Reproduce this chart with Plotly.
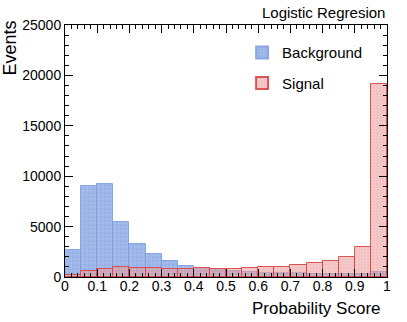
import plotly.graph_objects as go

bin_centers = [0.025, 0.075, 0.125, 0.175, 0.225, 0.275, 0.325, 0.375, 0.425, 0.475,
               0.525, 0.575, 0.625, 0.675, 0.725, 0.775, 0.825, 0.875, 0.925, 0.975]
background = [2700, 9050, 9200, 5450, 3300, 2320, 1550, 1120, 850, 650,
              550, 470, 420, 380, 350, 340, 330, 330, 330, 480]
signal = [160, 560, 820, 1020, 920, 920, 820, 800, 880, 810,
          750, 850, 960, 1020, 1150, 1350, 1620, 2020, 3010, 19100]
x_ticks = [0, 0.1, 0.2, 0.3, 0.4, 0.5, 0.6, 0.7, 0.8, 0.9, 1]
x_labels = ["0", "0.1", "0.2", "0.3", "0.4", "0.5", "0.6", "0.7", "0.8", "0.9", "1"]

fig = go.Figure()
fig.add_trace(go.Bar(
    x=bin_centers, y=background, width=0.05, name="Background", legendgroup="bkg",
    marker=dict(color="rgba(100,140,218,0.68)",
                line=dict(color="rgba(130,160,225,0.9)", width=1),
                pattern=dict(shape="+", fgcolor="rgba(255,255,255,0.6)", size=4, solidity=0.25)),
))
fig.add_trace(go.Bar(
    x=bin_centers, y=signal, width=0.05, name="Signal", legendgroup="sig",
    marker=dict(color="rgba(232,140,140,0.55)",
                line=dict(color="rgba(215,70,70,0.9)", width=1),
                pattern=dict(shape=".", fgcolor="rgba(255,255,255,0.5)", size=3, solidity=0.3)),
))

fig.update_layout(
    width=407, height=322, barmode="overlay", bargap=0,
    paper_bgcolor="white", plot_bgcolor="white",
    margin=dict(l=65, r=20, t=25, b=45),
    font=dict(family="Liberation Sans, Arial", color="black", size=14),
    legend=dict(x=0.55, y=0.955, xanchor="left", yanchor="top",
                bgcolor="rgba(0,0,0,0)", font=dict(size=15), tracegroupgap=8,
                itemsizing="constant"),
    annotations=[
        dict(text="Logistic Regresion", x=1, y=1.0, xref="paper", yref="paper",
             xanchor="right", yanchor="bottom", yshift=2, showarrow=False,
             font=dict(size=15)),
        dict(text="Events", x=0, y=1.0, xref="paper", yref="paper", textangle=-90,
             xanchor="right", yanchor="top", xshift=-44, yshift=6, showarrow=False,
             font=dict(size=18)),
        dict(text="Probability Score", x=1, y=0, xref="paper", yref="paper",
             xanchor="right", yanchor="top", xshift=-4, yshift=-20, showarrow=False,
             font=dict(size=17)),
    ],
)
fig.update_xaxes(
    range=[0, 1], tickvals=x_ticks, ticktext=x_labels, automargin=False,
    ticks="inside", ticklen=8, tickcolor="black", showline=True, linecolor="black",
    mirror="allticks", showgrid=False, zeroline=False, ticklabelstandoff=-4,
    minor=dict(dtick=0.02, ticks="inside", ticklen=4, tickcolor="black"),
)
fig.update_yaxes(
    range=[0, 25000], dtick=5000, tickformat="d", automargin=False,
    ticks="inside", ticklen=8, tickcolor="black", showline=True, linecolor="black",
    mirror="allticks", showgrid=False, zeroline=False,
    minor=dict(dtick=1000, ticks="inside", ticklen=4, tickcolor="black"),
)

# drop the browser's default body margin so the figure sits at the page corner
fig.write_html("out.html", config={"displayModeBar": False},
               post_script="document.body.style.margin='0';")
